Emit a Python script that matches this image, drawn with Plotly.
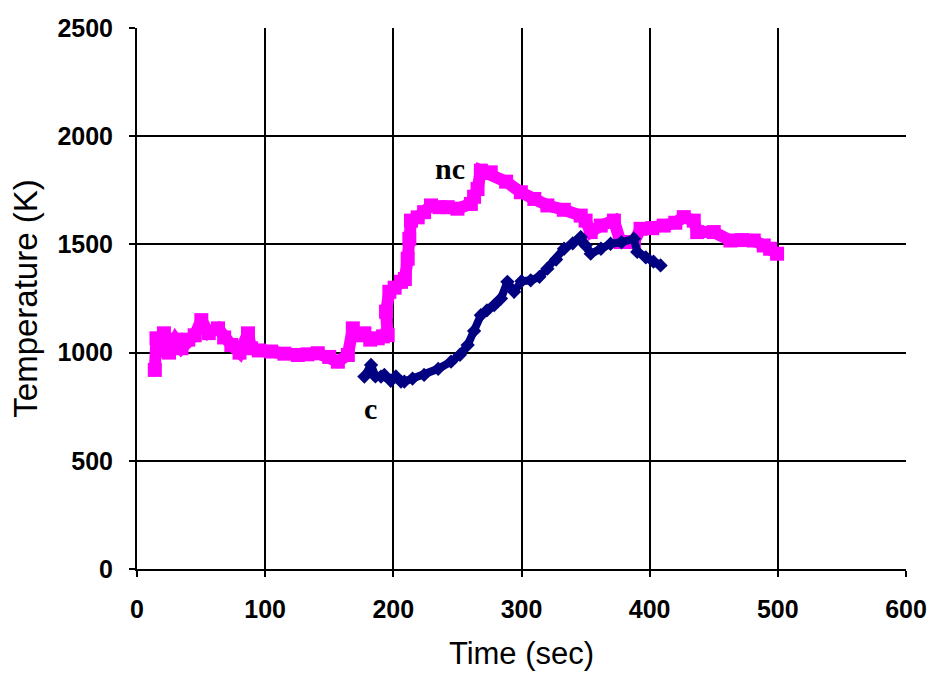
import plotly.graph_objects as go

# nc series (pink squares)
nc_time = [13.9, 15.2, 18, 21, 25, 30, 34.7, 40, 45, 50.2, 56, 63.2, 68, 73.6, 80, 86.6, 89, 95,
           104.7, 115, 125.5, 133, 141, 150, 156.7, 164.5, 168.4, 172, 177.4, 182, 187.8, 192, 195.6,
           194.3, 196.9, 201, 206, 209, 211.2, 212.5, 213.8, 219, 224, 229.4, 236, 242.4, 250, 260.5,
           263, 265.7, 268.3, 272, 276, 288, 299.5, 310, 320.2, 333, 346.2, 350, 354, 361.8, 372.1,
           377.3, 387.7, 392.9, 402, 411, 420, 426.6, 434.4, 437.1, 450, 463, 472, 481.2, 489, 494, 499.4]
nc_temp = [920, 1066, 1010, 1089, 1000, 1060, 1020, 1060, 1080, 1150, 1090, 1112, 1070, 1035, 1000, 1089, 1020, 1010,
           1005, 995, 989, 992, 997, 980, 958, 989, 1112, 1080, 1089, 1060, 1066, 1075, 1081,
           1189, 1281, 1300, 1327, 1340, 1434, 1526, 1610, 1625, 1649, 1680, 1672, 1672, 1665, 1687,
           1720, 1756, 1841, 1830, 1833, 1790, 1741, 1710, 1680, 1660, 1633, 1610, 1557, 1587, 1610,
           1511, 1511, 1572, 1575, 1587, 1600, 1626, 1610, 1557, 1557, 1518, 1520, 1518, 1495, 1480, 1457]

# c series (navy)
c_time = [177.4, 182.6, 186, 190.4, 193, 198, 202, 206, 208.6, 215, 224, 235, 245, 252, 258, 263, 268.3,
          273, 278.7, 284, 289, 294.2, 300, 307.2, 314, 320.2, 327, 333.2, 340, 346.2, 350, 354, 362,
          369.5, 378, 387.7, 390.3, 397, 403, 408.5]
c_temp = [889, 943, 890, 889, 897, 870, 890, 866, 866, 880, 897, 925, 958, 990, 1035, 1100, 1173,
          1195, 1219, 1250, 1327, 1281, 1330, 1334, 1350, 1388, 1430, 1480, 1505, 1534, 1495, 1457, 1480,
          1503, 1510, 1526, 1465, 1440, 1420, 1403]

x_ticks = [0, 100, 200, 300, 400, 500, 600]
y_ticks = [0, 500, 1000, 1500, 2000, 2500]

fig = go.Figure()
fig.add_trace(go.Scatter(x=nc_time, y=nc_temp, mode="lines+markers",
                         line=dict(color="#FF00FF", width=12),
                         marker=dict(symbol="square", size=14, color="#FF00FF"),
                         showlegend=False))
fig.add_trace(go.Scatter(x=c_time, y=c_temp, mode="lines+markers",
                         line=dict(color="#000080", width=8),
                         marker=dict(symbol="diamond", size=11, color="#000080"),
                         showlegend=False))

fig.add_annotation(x=244, y=1853, text="<b>nc</b>", showarrow=False,
                   font=dict(family="Liberation Serif", size=30, color="black"))
fig.add_annotation(x=182, y=741, text="<b>c</b>", showarrow=False,
                   font=dict(family="Liberation Serif", size=30, color="black"))

fig.update_layout(
    width=928, height=675,
    margin=dict(l=137, r=22, t=28, b=106),
    paper_bgcolor="white", plot_bgcolor="white",
    font=dict(family="Liberation Sans", color="black"),
)
tickfont = dict(family="Liberation Sans", size=25, color="black", weight="bold")
fig.update_xaxes(range=[0, 600], tickvals=x_ticks, ticktext=[str(v) for v in x_ticks],
                 showgrid=True, gridcolor="black", gridwidth=2,
                 showline=True, linecolor="black", linewidth=2,
                 ticks="outside", ticklen=6, tickcolor="black", tickwidth=2,
                 tickfont=tickfont, ticklabelstandoff=11,
                 title=dict(text="Time (sec)", font=dict(family="Liberation Sans", size=31), standoff=20),
                 zeroline=False, automargin=False)
fig.update_yaxes(range=[0, 2500], tickvals=y_ticks, ticktext=[str(v) for v in y_ticks],
                 showgrid=True, gridcolor="black", gridwidth=2,
                 showline=True, linecolor="black", linewidth=2,
                 ticks="outside", ticklen=6, tickcolor="black", tickwidth=2,
                 tickfont=tickfont, ticklabelstandoff=11,
                 title=dict(text="Temperature (K)", font=dict(family="Liberation Sans", size=33), standoff=10),
                 zeroline=False, automargin=False)

fig.write_html("out.html", config={"displayModeBar": False},
               post_script="document.body.style.margin='0';document.body.style.overflow='hidden';")
